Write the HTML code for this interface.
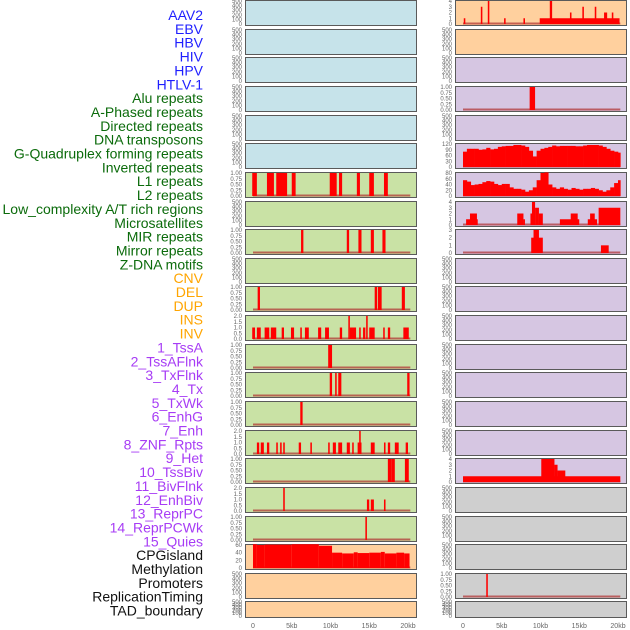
<!DOCTYPE html>
<html><head><meta charset="utf-8"><style>
html,body{margin:0;padding:0;background:#fff;}
svg{display:block;font-family:"Liberation Sans",sans-serif;}
</style></head><body>
<svg id="chart" width="630" height="630" viewBox="0 0 630 630"></svg>
<script>
// ---- Track labels ----
const trackLabels = ["AAV2","EBV","HBV","HIV","HPV","HTLV-1","Alu repeats","A-Phased repeats","Directed repeats","DNA transposons","G-Quadruplex forming repeats","Inverted repeats","L1 repeats","L2 repeats","Low_complexity A/T rich regions","Microsatellites","MIR repeats","Mirror repeats","Z-DNA motifs","CNV","DEL","DUP","INS","INV","1_TssA","2_TssAFlnk","3_TxFlnk","4_Tx","5_TxWk","6_EnhG","7_Enh","8_ZNF_Rpts","9_Het","10_TssBiv","11_BivFlnk","12_EnhBiv","13_ReprPC","14_ReprPCWk","15_Quies","CPGisland","Methylation","Promoters","ReplicationTiming","TAD_boundary"];
const labelGroups = ["v","v","v","v","v","v","r","r","r","r","r","r","r","r","r","r","r","r","r","s","s","s","s","s","c","c","c","c","c","c","c","c","c","c","c","c","c","c","c","o","o","o","o","o"];
const xTickValues = [0,5,10,15,20];
const xTickLabels = ["0","5kb","10kb","15kb","20kb"];
// ---- Per-panel y max (left column, right column) ----
const leftYMax = [500,500,500,500,500,500,1,500,1,500,1,2,1,1,1,2,1,2,1,60,500,500];
const rightYMax = [4,500,500,1,500,120,80,4,3,500,500,500,500,500,500,500,4,500,500,500,1,500];
// ---- Segments [startKb, endKb, value] ----
const leftSegs6 = [[-0.1,0.5,1],[1.8,2.7,1],[3.0,4.4,1],[5.0,5.5,1],[9.9,10.8,1],[11.1,11.5,1],[13.4,13.8,1],[15.0,15.6,1],[16.9,17.4,1]];
const leftSegs8 = [[6.2,6.5,1],[12.1,12.4,1],[13.6,14.0,1],[15.2,15.6,1],[16.7,17.1,1]];
const leftSegs10 = [[0.6,0.9,1],[15.7,16.0,1],[16.1,16.6,1],[19.2,19.6,1]];
const leftSegs11 = [[-0.1,0.26,1],[0.5,1.0,1],[1.5,2.1,1],[2.3,3.0,1],[3.7,4.0,1],[4.9,5.3,1],[6.1,6.3,1],[6.7,7.2,1],[8.4,8.8,1],[9.3,9.8,1],[11.2,11.5,1],[12.3,12.5,2],[12.5,13.3,1],[13.7,13.9,1],[14.2,14.5,1],[14.6,14.8,2],[15.0,15.7,1],[16.8,17.0,1],[17.4,17.7,1],[19.4,20.1,1]];
const leftSegs12 = [[9.7,10.2,1]];
const leftSegs13 = [[9.9,10.2,1],[10.6,10.8,1],[11.0,11.4,1],[19.9,20.2,1]];
const leftSegs14 = [[6.1,6.4,1]];
const leftSegs15 = [[0.5,0.8,1],[1.0,1.4,1],[1.8,2.1,1],[3.0,3.2,1],[3.5,3.7,1],[3.9,4.1,1],[5.9,6.2,1],[7.4,7.6,1],[9.7,9.9,1],[10.3,10.7,1],[11.0,11.5,1],[12.1,12.5,1],[12.8,13.0,1],[13.5,14.0,1],[13.7,13.9,2],[15.2,15.7,1],[16.9,17.1,1],[17.4,17.7,1],[18.3,18.8,1],[19.7,20.0,1]];
const leftSegs16 = [[17.4,17.9,1],[17.9,18.3,1],[19.6,20.1,1]];
const leftSegs17 = [[3.9,4.1,2],[14.7,15.0,1],[15.2,15.6,1],[16.9,17.1,1]];
const leftSegs18 = [[14.5,14.7,1]];
const leftSegs19 = [[0,0.5,62],[0.5,1.5,60],[1.5,5,61],[5,8.5,62],[8.5,10.2,58],[10.2,11.5,40],[11.5,13,38],[13,13.5,41],[13.5,15,39],[15,16.5,40],[16.5,17,42],[17,18.5,38],[18.5,19.5,40],[19.5,20.2,38]];
const rightSegs0 = [[0.1,0.3,1],[2.3,2.5,3],[3.2,3.4,4],[5.3,5.5,1],[7.8,8.0,1],[9.9,20.2,1],[11.2,11.5,4],[13.8,14.0,2],[15.4,15.6,3],[17.0,17.2,3],[18.2,18.6,2],[19.2,19.4,2]];
const rightSegs3 = [[8.6,9.3,1]];
const rightSegs7 = [[0.4,1.9,1],[0.9,1.8,2],[7.0,7.8,2],[7.8,7.9,1],[8.7,9.1,2],[8.9,9.3,4],[9.3,9.8,3],[9.8,10.3,2],[12.5,15.0,1],[13.9,14.8,2],[16.1,17.3,1],[16.4,17.0,2],[17.5,20.3,3]];
const rightSegs8 = [[8.8,10.3,2],[9.1,9.8,3],[17.8,18.8,1]];
const rightSegs16 = [[0,20.3,1],[10.1,11.8,4],[11.8,12.2,3],[12.2,13.2,2]];
const rightSegs20 = [[3.0,3.2,1]];
// ---- Continuous profiles, 0.5kb bins from 0kb ----
const gQuadProfile = [80,95,95,95,90,92,100,92,95,105,108,110,110,115,115,112,105,85,55,85,95,100,105,112,108,110,110,110,110,108,108,112,115,115,115,112,105,95,85,80,75];
const l1Profile = [55,50,38,40,42,48,52,50,42,38,42,42,30,25,25,22,15,20,30,55,80,82,40,30,25,30,25,22,28,25,22,25,25,28,25,20,15,20,30,45,55];

const leftSegs = {6:leftSegs6,8:leftSegs8,10:leftSegs10,11:leftSegs11,12:leftSegs12,13:leftSegs13,14:leftSegs14,15:leftSegs15,16:leftSegs16,17:leftSegs17,18:leftSegs18,19:leftSegs19};
const rightSegs = {0:rightSegs0,3:rightSegs3,7:rightSegs7,8:rightSegs8,16:rightSegs16,20:rightSegs20};
const rightProfiles = {5:gQuadProfile,6:l1Profile};

const NS = "http://www.w3.org/2000/svg";
const svg = document.getElementById("chart");
function mk(tag, attrs, parent){
  const e = document.createElementNS(NS, tag);
  for (const k in attrs) e.setAttribute(k, attrs[k]);
  (parent||svg).appendChild(e);
  return e;
}
const groupColor = {v:"#1f1fff", r:"#0b6b0b", s:"#ffa500", c:"#a73cf5", o:"#111"};
const labelG = mk("g", {});


trackLabels.forEach((t,i)=>{
  const e = mk("text", {x:203, y:15 + i*13.85 + 5, "text-anchor":"end", "font-size":"14", fill:groupColor[labelGroups[i]]}, labelG);
  e.textContent = t;
  
  
});

const rowTops = [0,29,57,86,115,143,172,201,229,258,286,315,344,372,401,430,458,487,516,544,573,601];
const cols = [{x0:245, x1:416, zero:253}, {x0:455, x1:626, zero:463}];
const pxPerKb = 7.75;
function leftBg(i){ return i<6 ? "#c6e3ea" : (i<19 ? "#c9e2a5" : "#ffd09e"); }
function rightBg(i){ return i<2 ? "#ffd09e" : (i<17 ? "#d6c6e2" : "#cfcfcf"); }
function tickList(ymax){
  if (ymax===500) return [[0,"0"],[100,"100"],[200,"200"],[300,"300"],[400,"400"],[500,"500"]];
  if (ymax===1) return [[0,"0.00"],[0.25,"0.25"],[0.5,"0.50"],[0.75,"0.75"],[1,"1.00"]];
  if (ymax===2) return [[0,"0.0"],[0.5,"0.5"],[1,"1.0"],[1.5,"1.5"],[2,"2.0"]];
  if (ymax===60) return [[0,"0"],[20,"20"],[40,"40"],[60,"60"]];
  if (ymax===120) return [[0,"0"],[30,"30"],[60,"60"],[90,"90"],[120,"120"]];
  if (ymax===80) return [[0,"0"],[20,"20"],[40,"40"],[60,"60"],[80,"80"]];
  if (ymax===4) return [[0,"0"],[1,"1"],[2,"2"],[3,"3"],[4,"4"]];
  if (ymax===3) return [[0,"0"],[1,"1"],[2,"2"],[3,"3"]];
  return [[0,"0"],[ymax,String(ymax)]];
}
function drawPanel(c, r, bg, ymax, segs, profile){
  const col = cols[c];
  const top = rowTops[r];
  const h = r===21 ? 16 : 25;
  const g = mk("g", {});
  
  
  mk("rect", {x:col.x0+0.5, y:top+0.5, width:col.x1-col.x0, height:h, fill:bg, stroke:"#5a5a5a", "stroke-width":"1"}, g);
  const yBase = top + h - 1;
  const yTop = top + 1;
  const yS = v => yBase - (v/ymax)*(yBase-yTop);
  const xS = kb => col.zero + kb*pxPerKb;
  tickList(ymax).forEach(([v,l])=>{
    const t = mk("text", {x:col.x0-3, y:yS(v)+2, "text-anchor":"end", "font-size":"6", fill:"#666"}, g);
    t.textContent = l;
    
    
  });
  if (segs || profile){
    const base = mk("line", {x1:xS(0), x2:xS(20.3), y1:yBase-0.5, y2:yBase-0.5, stroke:"#b03030", "stroke-width":"2", opacity:"0.7"}, g);
    
    
  }
  if (segs){
    segs.forEach(([s,e,v])=>{
      const b = mk("rect", {x:xS(s), y:yS(v), width:Math.max(1.5,xS(e)-xS(s)), height:yBase-yS(v), fill:"#ff0000"}, g);
      
      
    });
  }
  if (profile){
    profile.forEach((v,k)=>{
      const s = k*0.5, e = Math.min(k*0.5+0.5, 20.3);
      const b = mk("rect", {x:xS(s), y:yS(v), width:xS(e)-xS(s)+0.3, height:yBase-yS(v), fill:"#ff0000"}, g);
      
      
    });
  }
}
for (let r=0;r<22;r++){
  drawPanel(0, r, leftBg(r), leftYMax[r], leftSegs[r], null);
  drawPanel(1, r, rightBg(r), rightYMax[r], rightSegs[r], rightProfiles[r]);
}
cols.forEach((col,ci)=>{
  xTickValues.forEach((v,k)=>{
    const t = mk("text", {x:col.zero + v*pxPerKb, y:628, "text-anchor":"middle", "font-size":"7", fill:"#666"});
    t.textContent = xTickLabels[k];
    
    
  });
});
</script>
</body></html>
